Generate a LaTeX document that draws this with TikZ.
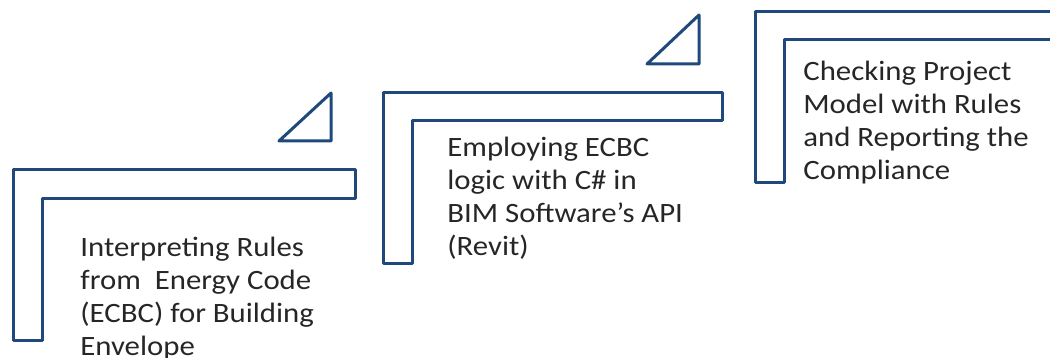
\documentclass[tikz,border=0pt]{standalone}
\usepackage{fontspec}
\setmainfont{Carlito}[FakeStretch=1.1]
\usetikzlibrary{positioning}
\definecolor{stepblue}{RGB}{31,73,125}

\begin{document}
\begin{tikzpicture}[x=0.5pt, y=-0.5pt,
    stepline/.style={draw=stepblue, line width=1.5pt, line join=round},
    steptext/.style={anchor=north west, inner sep=0pt, align=left,
      text=black!85, font=\fontsize{14}{16.5}\selectfont}]

  \clip (0,0) rectangle (1050,358);

  % step one
  \draw [stepline] (13,170) -- (355,170) -- (355,198) -- (42,198)
    -- (42,340) -- (13,340) -- cycle;
  \draw [stepline] (279,141) -- (331,141) -- (331,93) -- cycle;
  \node [steptext] (rules) at (80,237)
    {Interpreting Rules\\from~ Energy Code\\(ECBC) for Building\\Envelope};

  % step two
  \draw [stepline] (383,93) -- (722,93) -- (722,121) -- (412,121)
    -- (412,263) -- (383,263) -- cycle;
  \draw [stepline] (647,64) -- (699,64) -- (699,15) -- cycle;
  \node [steptext] (logic) at (447,137)
    {Employing ECBC\\logic with C\# in\\BIM Software’s API\\(Revit)};

  % step three
  \draw [stepline] (755,12) -- (1080,12) -- (1080,40) -- (784,40)
    -- (784,183) -- (755,183) -- cycle;
  \node [steptext] (check) at (803,61)
    {Checking Project\\Model with Rules\\and Reporting the\\Compliance};

\end{tikzpicture}
\end{document}
